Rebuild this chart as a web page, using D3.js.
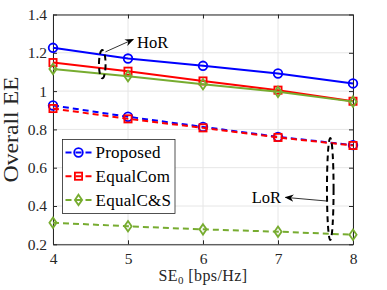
<!DOCTYPE html>
<html>
<head>
<meta charset="utf-8">
<script src="https://cdn.jsdelivr.net/npm/d3@7"></script>
<style>
  body { margin: 0; background: #fff; }
  text { font-family: "Liberation Serif", "Times New Roman", serif; fill: #262626; }
</style>
</head>
<body>
<div id="chart"></div>
<script>
// data
const se = [4, 5, 6, 7, 8];
const horProposed = [1.226, 1.170, 1.132, 1.092, 1.040];
const horEqualCom = [1.149, 1.104, 1.053, 1.005, 0.947];
const horEqualCS = [1.116, 1.078, 1.036, 0.996, 0.945];
const lorProposed = [0.925, 0.866, 0.813, 0.761, 0.718];
const lorEqualCom = [0.909, 0.855, 0.808, 0.758, 0.716];
const lorEqualCS = [0.313, 0.294, 0.278, 0.266, 0.250];
const xTicks = [4, 5, 6, 7, 8];
const yTicks = [0.2, 0.4, 0.6, 0.8, 1, 1.2, 1.4];
const legendNames = ["Proposed", "EqualCom", "EqualC&S"];
// annotations, in data units
const horMark = {x: 4.657, y0: 1.067, y1: 1.214, arrowFrom: [4.70, 1.205], arrowTo: [5.07, 1.27], label: "HoR", at: [5.12, 1.256]};
const lorMark = {x: 7.697, y0: 0.222, y1: 0.755, arrowFrom: [7.65, 0.426], arrowTo: [7.10, 0.445], label: "LoR", at: [7.04, 0.448]};

const w = 387, h = 290;
const m = {left: 53, right: 34, top: 14.5, bottom: 45.7};

const xScale = d3.scaleLinear().domain([4, 8]).range([m.left, w - m.right]);
const yScale = d3.scaleLinear().domain([0.2, 1.4]).range([h - m.bottom, m.top]);

const svg = d3.select("#chart").append("svg")
  .attr("width", w)
  .attr("height", h);

svg.append("defs").append("marker")
  .attr("id", "arrow")
  .attr("viewBox", "0 0 10 10")
  .attr("refX", 9).attr("refY", 5)
  .attr("markerWidth", 9).attr("markerHeight", 9)
  .attr("markerUnits", "userSpaceOnUse")
  .attr("orient", "auto")
  .append("path")
  .attr("d", "M0,1 L10,5 L0,9 L3,5 Z")
  .attr("fill", "#000");

// grid
const grid = svg.append("g");
grid.selectAll(".gx").data(xTicks).enter().append("line")
  .attr("x1", d => xScale(d)).attr("x2", d => xScale(d))
  .attr("y1", m.top).attr("y2", h - m.bottom)
  .style("stroke", "#e6e6e6");
grid.selectAll(".gy").data(yTicks).enter().append("line")
  .attr("x1", m.left).attr("x2", w - m.right)
  .attr("y1", d => yScale(d)).attr("y2", d => yScale(d))
  .style("stroke", "#e6e6e6");

// axes, MATLAB style box with inward ticks
const fmt = d => d3.format("")(+d.toFixed(1));
svg.append("g")
  .attr("transform", `translate(0, ${h - m.bottom})`)
  .call(d3.axisBottom(xScale).tickValues(xTicks).tickSizeInner(-4).tickSizeOuter(0).tickPadding(9).tickFormat(fmt))
  .call(g => g.selectAll("text").style("font-size", "15.5px"));
svg.append("g")
  .attr("transform", `translate(${m.left}, 0)`)
  .call(d3.axisLeft(yScale).tickValues(yTicks).tickSizeInner(-4).tickSizeOuter(0).tickPadding(6).tickFormat(fmt))
  .call(g => g.selectAll("text").style("font-size", "15.5px"));
svg.append("g")
  .attr("transform", `translate(0, ${m.top})`)
  .call(d3.axisTop(xScale).tickValues(xTicks).tickSizeInner(-4).tickSizeOuter(0).tickFormat(""));
svg.append("g")
  .attr("transform", `translate(${w - m.right}, 0)`)
  .call(d3.axisRight(yScale).tickValues(yTicks).tickSizeInner(-4).tickSizeOuter(0).tickFormat(""));
svg.selectAll(".domain, .tick line").style("stroke", "#262626");

// series
const colors = ["#0000ff", "#ff0000", "#77ac30"];
const shapes = ["circle", "square", "diamond"];
const series = [
  {vals: horProposed, c: 0, dash: null},
  {vals: horEqualCom, c: 1, dash: null},
  {vals: horEqualCS, c: 2, dash: null},
  {vals: lorEqualCS, c: 2, dash: "6,4"},
  {vals: lorProposed, c: 0, dash: "6,4"},
  {vals: lorEqualCom, c: 1, dash: "6,4"}
];

const line = d3.line()
  .x((d, i) => xScale(se[i]))
  .y(d => yScale(d));

function drawMarker(g, shape, color, x, y) {
  if (shape === "circle") {
    g.append("circle").attr("cx", x).attr("cy", y).attr("r", 4.3)
      .style("fill", "none").style("stroke", color).style("stroke-width", 1.8);
  } else if (shape === "square") {
    g.append("rect").attr("x", x - 3.6).attr("y", y - 3.6).attr("width", 7.2).attr("height", 7.2)
      .style("fill", "none").style("stroke", color).style("stroke-width", 1.8);
  } else {
    g.append("path").attr("d", `M${x},${y - 5.2}L${x + 3.6},${y}L${x},${y + 5.2}L${x - 3.6},${y}Z`)
      .style("fill", "none").style("stroke", color).style("stroke-width", 1.8);
  }
}

series.forEach(s => {
  svg.append("path")
    .datum(s.vals)
    .attr("d", line)
    .style("fill", "none")
    .style("stroke", colors[s.c])
    .style("stroke-width", 2)
    .style("stroke-dasharray", s.dash);
  const g = svg.append("g");
  s.vals.forEach((v, i) => drawMarker(g, shapes[s.c], colors[s.c], xScale(se[i]), yScale(v)));
});

// annotations
[horMark, lorMark].forEach((a, k) => {
  const cy = (yScale(a.y0) + yScale(a.y1)) / 2;
  const ry = Math.abs(yScale(a.y0) - yScale(a.y1)) / 2;
  svg.append("ellipse")
    .attr("cx", xScale(a.x)).attr("cy", cy)
    .attr("rx", 3.3).attr("ry", ry)
    .style("fill", "none").style("stroke", "#000")
    .style("stroke-width", 2).style("stroke-dasharray", "6,4");
  svg.append("line")
    .attr("x1", xScale(a.arrowFrom[0])).attr("y1", yScale(a.arrowFrom[1]))
    .attr("x2", xScale(a.arrowTo[0])).attr("y2", yScale(a.arrowTo[1]))
    .style("stroke", "#000").style("stroke-width", 0.8)
    .attr("marker-end", "url(#arrow)");
  svg.append("text")
    .attr("x", xScale(a.at[0])).attr("y", yScale(a.at[1]))
    .attr("dy", "0.35em")
    .attr("text-anchor", k === 0 ? "start" : "end")
    .style("font-size", "16.5px").style("fill", "#000")
    .text(a.label);
});

// legend
const lg = svg.append("g").attr("transform", "translate(62.5, 139.5)");
lg.append("rect")
  .attr("width", 112.5).attr("height", 74)
  .style("fill", "#fff").style("stroke", "#262626").style("stroke-width", 0.8);
legendNames.forEach((name, i) => {
  const y = 13 + i * 23.7;
  lg.append("line")
    .attr("x1", 3).attr("x2", 31).attr("y1", y).attr("y2", y)
    .style("stroke", colors[i]).style("stroke-width", 2)
    .style("stroke-dasharray", "6,4");
  drawMarker(lg, shapes[i], colors[i], 16, y);
  lg.append("text")
    .attr("x", 33).attr("y", y).attr("dy", "0.35em")
    .style("font-size", "17px").style("letter-spacing", "0.25px").style("fill", "#000")
    .text(name);
});

// axis titles
svg.append("text")
  .attr("transform", `translate(18, ${(m.top + h - m.bottom) / 2}) rotate(-90)`)
  .attr("text-anchor", "middle")
  .attr("textLength", 106)
  .attr("lengthAdjust", "spacingAndGlyphs")
  .style("font-size", "20px")
  .text("Overall EE");

const xt = svg.append("text")
  .attr("x", xScale(6)).attr("y", 281)
  .attr("text-anchor", "middle")
  .style("font-size", "16px")
  .style("letter-spacing", "0.4px");
xt.append("tspan").text("SE");
xt.append("tspan").attr("dy", 3).style("font-size", "11px").text("0");
xt.append("tspan").attr("dy", -3).text(" [bps/Hz]");
</script>
</body>
</html>
